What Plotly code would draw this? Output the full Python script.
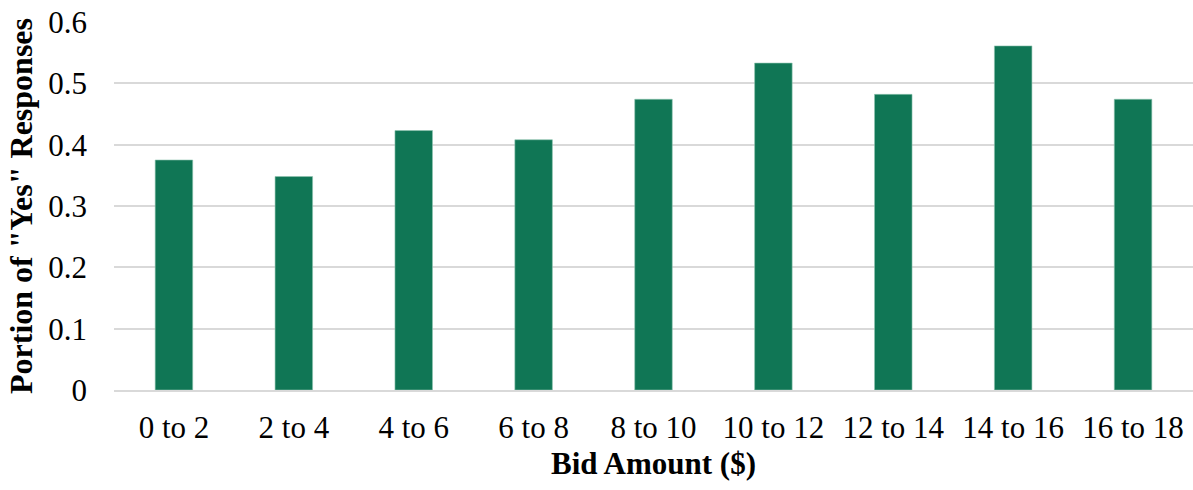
import plotly.graph_objects as go

# Bid ranges and share of "Yes" answers per range
bid_ranges = ["0 to 2", "2 to 4", "4 to 6", "6 to 8", "8 to 10",
              "10 to 12", "12 to 14", "14 to 16", "16 to 18"]
yes_share = [0.375, 0.348, 0.423, 0.408, 0.474, 0.533, 0.482, 0.561, 0.474]
y_ticks = [0, 0.1, 0.2, 0.3, 0.4, 0.5, 0.6]
y_tick_labels = ["0", "0.1", "0.2", "0.3", "0.4", "0.5", "0.6"]

BAR_COLOR = "#107655"
GRID_COLOR = "#d9d9d9"
FONT = "Liberation Serif, Times New Roman, serif"

fig = go.Figure(
    go.Bar(
        x=bid_ranges,
        y=yes_share,
        marker=dict(color=BAR_COLOR, line=dict(color="#8fc4b0", width=0.6)),
    )
)

fig.update_layout(
    width=1193,
    height=490,
    margin=dict(l=114, r=0, t=22, b=100),
    paper_bgcolor="white",
    plot_bgcolor="white",
    bargap=0.687,
    showlegend=False,
    font=dict(family=FONT, color="black", size=31),
    xaxis=dict(
        showgrid=False,
        showline=True,
        linecolor=GRID_COLOR,
        linewidth=1.5,
        ticks="",
        ticklabelstandoff=9,
        tickfont=dict(size=31),
        title=dict(text="<b>Bid Amount ($)</b>", font=dict(size=31), standoff=8),
        automargin=False,
    ),
    yaxis=dict(
        range=[0, 0.6],
        tickvals=y_ticks,
        ticktext=y_tick_labels,
        showgrid=True,
        gridcolor=GRID_COLOR,
        gridwidth=1.5,
        zeroline=False,
        showline=False,
        ticks="",
        ticklabelstandoff=26,
        tickfont=dict(size=31),
        title=dict(text='<b>Portion of "Yes" Responses</b>', font=dict(size=32), standoff=6),
        automargin=False,
    ),
)

fig.write_html("out.html")
